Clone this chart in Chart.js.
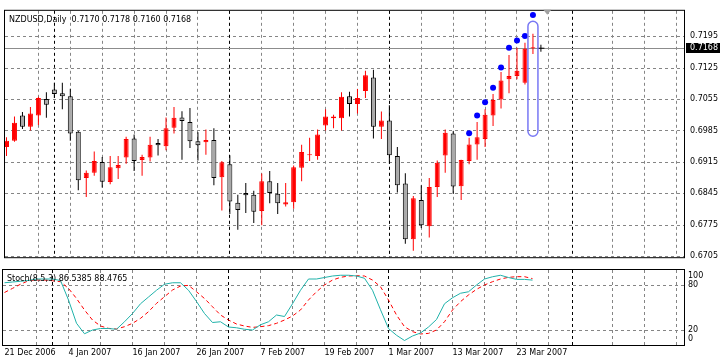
<!DOCTYPE html>
<html>
<head>
<meta charset="utf-8">
<script src="https://cdn.jsdelivr.net/npm/chart.js@4/dist/chart.umd.min.js"></script>
<style>
  html, body { margin: 0; padding: 0; background: #fff; }
  #wrap { position: relative; width: 722px; height: 362px; overflow: hidden; background: #fff; }
  canvas { position: absolute; left: 0; }
  #main { top: 0; }
  #stoch { top: 268px; }
</style>
</head>
<body>
<div id="wrap">
  <canvas id="main" width="722" height="268"></canvas>
  <canvas id="stoch" width="722" height="94"></canvas>
</div>
<script>
// header texts
const symbolTitle = 'NZDUSD,Daily  0.7170 0.7178 0.7160 0.7168';
const stochTitle = 'Stoch(8,5,3) 86.5385 88.4765';

// daily candles, 21 Dec 2006 .. 27 Mar 2007 (bar index = position in the arrays)
const opens = [
  0.6948, 0.6962, 0.7018, 0.6993, 0.7018, 0.7055, 0.7076, 0.7068, 0.7061, 0.6982,
  0.6879, 0.6891, 0.6915, 0.6870, 0.6901, 0.6925, 0.6967, 0.6919, 0.6925, 0.6957,
  0.6950, 0.6991, 0.7014, 0.7004, 0.6961, 0.6959, 0.6964, 0.6881, 0.6910, 0.6824,
  0.6846, 0.6842, 0.6806, 0.6872, 0.6844, 0.6820, 0.6825, 0.6902, 0.6930, 0.6928,
  0.6996, 0.7012, 0.7012, 0.7061, 0.7044, 0.7073, 0.7103, 0.6993, 0.7007, 0.6928,
  0.6867, 0.6743, 0.6830, 0.6772, 0.6859, 0.6929, 0.6978, 0.6861, 0.6917, 0.6954,
  0.6966, 0.7018, 0.7054, 0.7099, 0.7106, 0.7091, 0.7168
];
const highs = [
  0.6970, 0.7016, 0.7026, 0.7037, 0.7060, 0.7070, 0.7091, 0.7091, 0.7078, 0.6984,
  0.6896, 0.6938, 0.6926, 0.6928, 0.6928, 0.6971, 0.6976, 0.6931, 0.6971, 0.6966,
  0.7014, 0.7037, 0.7028, 0.7035, 0.6981, 0.6987, 0.6990, 0.6917, 0.6930, 0.6842,
  0.6868, 0.6851, 0.6889, 0.6895, 0.6868, 0.6868, 0.6907, 0.6953, 0.6969, 0.6987,
  0.7032, 0.7020, 0.7070, 0.7071, 0.7077, 0.7118, 0.7120, 0.7027, 0.7041, 0.6948,
  0.6890, 0.6839, 0.6863, 0.6879, 0.6918, 0.6987, 0.6983, 0.6920, 0.6969, 0.7004,
  0.7032, 0.7066, 0.7115, 0.7153, 0.7169, 0.7180, 0.7200
];
const lows = [
  0.6928, 0.6960, 0.6988, 0.6985, 0.6997, 0.7013, 0.7057, 0.7032, 0.6962, 0.6852,
  0.6837, 0.6884, 0.6858, 0.6865, 0.6877, 0.6911, 0.6895, 0.6884, 0.6916, 0.6929,
  0.6941, 0.6978, 0.6920, 0.6946, 0.6918, 0.6931, 0.6863, 0.6807, 0.6799, 0.6764,
  0.6801, 0.6779, 0.6774, 0.6823, 0.6799, 0.6816, 0.6811, 0.6872, 0.6917, 0.6920,
  0.6985, 0.6990, 0.6985, 0.7016, 0.7023, 0.7057, 0.6967, 0.6966, 0.6911, 0.6847,
  0.6733, 0.6717, 0.6768, 0.6747, 0.6837, 0.6891, 0.6844, 0.6830, 0.6910, 0.6920,
  0.6948, 0.6995, 0.7034, 0.7068, 0.7099, 0.7087, 0.7155
];
const closes = [
  0.6962, 0.7002, 0.6993, 0.7023, 0.7057, 0.7042, 0.7066, 0.7061, 0.6978, 0.6874,
  0.6891, 0.6917, 0.6871, 0.6903, 0.6908, 0.6966, 0.6917, 0.6926, 0.6953, 0.6952,
  0.6990, 0.7013, 0.7006, 0.6961, 0.6952, 0.6964, 0.6879, 0.6914, 0.6827, 0.6808,
  0.6841, 0.6804, 0.6872, 0.6846, 0.6823, 0.6825, 0.6903, 0.6937, 0.6932, 0.6976,
  0.7016, 0.7016, 0.7060, 0.7044, 0.7057, 0.7108, 0.6993, 0.7007, 0.6930, 0.6863,
  0.6743, 0.6834, 0.6774, 0.6859, 0.6913, 0.6980, 0.6860, 0.6919, 0.6954, 0.6970,
  0.7020, 0.7053, 0.7096, 0.7106, 0.7118, 0.7167, 0.7168
];

// blue signal dots above the last bars
const dotIdx = [58, 59, 60, 61, 62, 63, 64, 65, 66];
const dotPrices = [0.6979, 0.7018, 0.7048, 0.7080, 0.7125, 0.7169, 0.7185, 0.7195, 0.7242];

// stochastic %K and %D
const stochMain = [
  83, 84, 85, 86, 88, 88, 88, 86, 60, 29,
  15, 20, 22, 22, 21, 31, 42, 55, 64, 73,
  81, 83, 83, 73, 58, 42, 30, 31, 24, 23,
  21, 20, 27, 31, 40, 38, 55, 73, 88, 88,
  90, 92, 93, 93, 92, 89, 73, 47, 22, 13,
  6, 12, 16, 24, 34, 55, 63, 69, 71, 80,
  88, 91, 93, 90, 87.5, 87.5, 86.5385
];
const stochSignal = [
  70, 75.5, 81, 85.7, 86.6, 86.6, 85.7, 84.4, 75.5, 62,
  46.7, 33.3, 25.3, 22.2, 21.3, 24.4, 28.9, 35.5, 44.4, 55.5,
  64.4, 73.3, 78.6, 79.5, 71, 62, 51, 40, 33.3, 28,
  25.3, 23.5, 24.4, 25.8, 28.9, 33.3, 38.6, 46.7, 60, 71,
  80, 86.6, 90.2, 92, 92.4, 92, 86.6, 77.7, 60, 40,
  24.4, 17.8, 14.7, 15.5, 20, 31, 46.7, 57.8, 66.7, 74.2,
  80, 84.4, 88, 90.2, 91.1, 91.1, 88.4765
];

// axes
const dateLabels = ['21 Dec 2006', '4 Jan 2007', '16 Jan 2007', '26 Jan 2007', '7 Feb 2007',
  '19 Feb 2007', '1 Mar 2007', '13 Mar 2007', '23 Mar 2007'];
const labelIdx = [0, 8, 16, 24, 32, 40, 48, 56, 64];
const gridIdx = [4, 8, 12, 16, 20, 24, 28, 32, 36, 40, 44, 48, 52, 56, 60, 64, 68, 76, 80, 84];
const separatorIdx = [6, 28, 48, 71];
const priceTicks = [0.7195, 0.7125, 0.7055, 0.6985, 0.6915, 0.6845, 0.6775, 0.6705];
const stochLevels = [80, 20];
const stochTicks = [100, 80, 20, 0];

// markers
const bidPrice = 0.7168;
const crossIdx = 67;
const shiftIdx = 67.8;
const boxMark = [66, 0.7228, 0.6972]; // bar, top price, bottom price

const xMin = -0.1875, xMax = 84.9375;
const yMin = 0.67029, yMax = 0.72513;

const RED = '#ff0000';
const GREY = '#a9a9a9';
const GRID = '#858585';
const FONT = '8px "DejaVu Sans"';

Chart.defaults.font.family = 'DejaVu Sans';
Chart.defaults.font.size = 8;
Chart.defaults.color = '#000';

const isUp = i => closes[i] >= opens[i];

function drawGrid (chart, levels) {
  const { ctx, chartArea: a, scales: { x, y } } = chart;
  ctx.save();
  ctx.lineWidth = 1;
  ctx.setLineDash([3, 3]);
  ctx.strokeStyle = GRID;
  ctx.beginPath();
  levels.forEach(v => {
    const py = Math.round(y.getPixelForValue(v)) + 0.5;
    ctx.moveTo(a.left, py);
    ctx.lineTo(a.right, py);
  });
  gridIdx.forEach(i => {
    const px = Math.floor(x.getPixelForValue(i)) + 0.5;
    ctx.moveTo(px, a.top);
    ctx.lineTo(px, a.bottom);
  });
  ctx.stroke();
  ctx.strokeStyle = '#000';
  ctx.beginPath();
  separatorIdx.forEach(i => {
    const px = Math.floor(x.getPixelForValue(i)) + 0.5;
    ctx.moveTo(px, a.top);
    ctx.lineTo(px, a.bottom);
  });
  ctx.stroke();
  ctx.restore();
}

function drawFrame (chart, title) {
  const { ctx, chartArea: a } = chart;
  ctx.save();
  ctx.strokeStyle = '#000';
  ctx.lineWidth = 1;
  ctx.strokeRect(a.left - 0.5, a.top - 0.5, a.right - a.left + 1, a.bottom - a.top + 1);
  ctx.fillStyle = '#000';
  ctx.font = FONT;
  ctx.textBaseline = 'middle';
  ctx.textAlign = 'left';
  ctx.fillText(title, a.left + 4, a.top + 9);
  ctx.restore();
}

const mainDecor = {
  id: 'mainDecor',
  beforeDatasetsDraw (chart) {
    const { ctx, chartArea: a, scales: { y } } = chart;
    drawGrid(chart, priceTicks);
    // bid line
    const yb = Math.round(y.getPixelForValue(bidPrice)) + 0.5;
    ctx.save();
    ctx.strokeStyle = '#8c8c8c';
    ctx.lineWidth = 1;
    ctx.beginPath();
    ctx.moveTo(a.left, yb);
    ctx.lineTo(a.right, yb);
    ctx.stroke();
    ctx.restore();
  },
  afterDatasetsDraw (chart) {
    const { ctx, scales: { x, y } } = chart;
    ctx.save();
    // drawn rectangle around the last bar
    const cx = x.getPixelForValue(boxMark[0]);
    const l = cx - 5, r = cx + 5;
    const t = y.getPixelForValue(boxMark[1]), b = y.getPixelForValue(boxMark[2]);
    const rad = 5;
    ctx.strokeStyle = '#7878f4';
    ctx.lineWidth = 1.5;
    ctx.beginPath();
    ctx.moveTo(l + rad, t);
    ctx.lineTo(r - rad, t);
    ctx.arcTo(r, t, r, t + rad, rad);
    ctx.lineTo(r, b - rad);
    ctx.arcTo(r, b, r - rad, b, rad);
    ctx.lineTo(l + rad, b);
    ctx.arcTo(l, b, l, b - rad, rad);
    ctx.lineTo(l, t + rad);
    ctx.arcTo(l, t, l + rad, t, rad);
    ctx.closePath();
    ctx.stroke();
    ctx.restore();
  },
  afterDraw (chart) {
    const { ctx, chartArea: a, scales: { x, y } } = chart;
    drawFrame(chart, symbolTitle);
    ctx.save();
    // chart shift marker
    const sx = x.getPixelForValue(shiftIdx);
    ctx.fillStyle = '#a0a0a0';
    ctx.beginPath();
    ctx.moveTo(sx - 4, a.top - 1);
    ctx.lineTo(sx + 4, a.top - 1);
    ctx.lineTo(sx, a.top + 4);
    ctx.closePath();
    ctx.fill();
    // current price label
    const yb = Math.round(y.getPixelForValue(bidPrice));
    ctx.fillStyle = '#000';
    ctx.fillRect(a.right + 2, yb - 5, 34, 10);
    ctx.fillStyle = '#fff';
    ctx.font = FONT;
    ctx.textBaseline = 'middle';
    ctx.fillText(bidPrice.toFixed(4), a.right + 6, yb);
    ctx.restore();
  }
};

new Chart(document.getElementById('main'), {
  type: 'bar',
  data: {
    datasets: [
      {
        data: lows.map((l, i) => ({ x: i, y: [l, highs[i]] })),
        backgroundColor: opens.map((o, i) => isUp(i) ? RED : '#000'),
        borderWidth: 0,
        barThickness: 1,
        grouped: false,
        inflateAmount: 0,
        order: 3
      },
      {
        data: opens.map((o, i) => ({ x: i, y: [o, closes[i]] })),
        backgroundColor: opens.map((o, i) => isUp(i) ? RED : GREY),
        borderColor: opens.map((o, i) => isUp(i) ? RED : '#000'),
        borderWidth: 1,
        borderSkipped: false,
        barThickness: 5,
        minBarLength: 1,
        grouped: false,
        inflateAmount: 0,
        order: 2
      },
      {
        type: 'scatter',
        data: dotIdx.map((i, k) => ({ x: i, y: dotPrices[k] })),
        pointRadius: 3,
        backgroundColor: '#0000ff',
        borderWidth: 0,
        order: 1
      },
      {
        type: 'scatter',
        data: [{ x: crossIdx, y: bidPrice }],
        pointStyle: 'cross',
        pointRadius: 3.5,
        borderColor: '#000',
        borderWidth: 1,
        order: 0
      }
    ]
  },
  options: {
    responsive: false,
    animation: false,
    devicePixelRatio: 1,
    events: [],
    layout: { padding: { left: 3, top: 3, right: 0, bottom: 2 } },
    plugins: { legend: { display: false }, tooltip: { enabled: false } },
    scales: {
      x: { type: 'linear', min: xMin, max: xMax, offset: false, display: false },
      y: {
        position: 'right',
        min: yMin,
        max: yMax,
        grid: { display: false, drawTicks: false },
        border: { display: false },
        afterBuildTicks: s => { s.ticks = priceTicks.map(v => ({ value: v })); },
        afterFit: s => { s.width = 38; },
        ticks: { padding: 6, callback: v => v.toFixed(4) }
      }
    }
  },
  plugins: [mainDecor]
});

const stochDecor = {
  id: 'stochDecor',
  beforeDatasetsDraw (chart) {
    drawGrid(chart, stochLevels);
  },
  afterDraw (chart) {
    const { ctx, chartArea: a, scales: { y } } = chart;
    drawFrame(chart, stochTitle);
    ctx.save();
    ctx.fillStyle = '#000';
    ctx.font = FONT;
    ctx.textBaseline = 'middle';
    stochTicks.forEach(v => {
      const py = Math.min(Math.max(y.getPixelForValue(v), a.top + 6), a.bottom - 6);
      ctx.fillText(String(v), a.right + 4, py);
    });
    ctx.restore();
  }
};

new Chart(document.getElementById('stoch'), {
  type: 'line',
  data: {
    datasets: [
      {
        data: stochMain.map((v, i) => ({ x: i, y: v })),
        borderColor: '#20b2aa',
        borderWidth: 1,
        pointRadius: 0,
        tension: 0
      },
      {
        data: stochSignal.map((v, i) => ({ x: i, y: v })),
        borderColor: RED,
        borderWidth: 1,
        borderDash: [4, 3],
        pointRadius: 0,
        tension: 0
      }
    ]
  },
  options: {
    responsive: false,
    animation: false,
    devicePixelRatio: 1,
    events: [],
    layout: { padding: { left: 3, top: 2, right: 0, bottom: 0 } },
    plugins: { legend: { display: false }, tooltip: { enabled: false } },
    scales: {
      x: {
        type: 'linear',
        min: xMin,
        max: xMax,
        offset: false,
        grid: { display: false, drawTicks: false },
        border: { display: false },
        afterBuildTicks: s => { s.ticks = labelIdx.map(v => ({ value: v })); },
        afterFit: s => { s.height = 17; },
        ticks: {
          align: 'start',
          autoSkip: false,
          maxRotation: 0,
          padding: 3,
          callback: (v, k) => dateLabels[k]
        }
      },
      y: {
        position: 'right',
        min: 0,
        max: 100,
        grid: { display: false, drawTicks: false },
        border: { display: false },
        ticks: { display: false },
        afterFit: s => { s.width = 38; }
      }
    }
  },
  plugins: [stochDecor]
});
</script>
</body>
</html>
